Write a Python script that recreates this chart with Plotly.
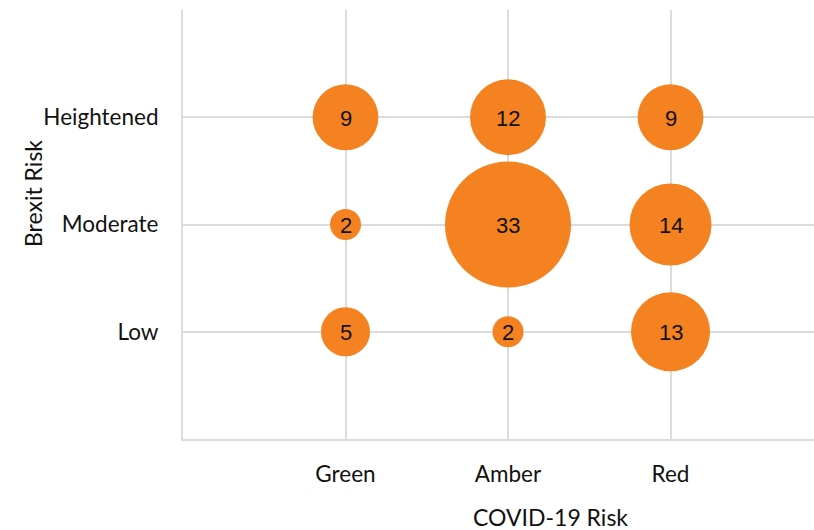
import plotly.graph_objects as go

# Risk matrix: COVID-19 risk (x) vs Brexit risk (y), bubble = count
covid_levels = ["Green", "Amber", "Red"]
brexit_levels = ["Low", "Moderate", "Heightened"]

covid_risk = ["Green", "Amber", "Red", "Green", "Amber", "Red", "Green", "Amber", "Red"]
brexit_risk = ["Heightened", "Heightened", "Heightened",
               "Moderate", "Moderate", "Moderate",
               "Low", "Low", "Low"]
counts = [9, 12, 9, 2, 33, 14, 5, 2, 13]

x_pos = [covid_levels.index(c) for c in covid_risk]
y_pos = [brexit_levels.index(b) for b in brexit_risk]

max_diameter = 126
sizeref = 2 * max(counts) / (max_diameter ** 2)

grid = "#dcdcdc"
label_font = "Lato, 'Open Sans', sans-serif"

fig = go.Figure(
    go.Scatter(
        x=x_pos,
        y=y_pos,
        mode="markers",
        marker=dict(
            size=counts,
            sizemode="area",
            sizeref=sizeref,
            color="#F58220",
            opacity=1,
            line=dict(width=0),
        ),
        hoverinfo="skip",
        showlegend=False,
        cliponaxis=False,
    )
)

# count labels centred on each bubble
for xv, yv, c in zip(x_pos, y_pos, counts):
    fig.add_annotation(
        x=xv, y=yv, text=str(c), showarrow=False,
        xanchor="center", yanchor="middle", yshift=-1,
        font=dict(family="Liberation Sans, Arial, sans-serif", size=22, color="#111111"),
    )

fig.update_xaxes(
    range=[-1, 2.883],
    tickvals=list(range(len(covid_levels))),
    ticktext=covid_levels,
    showgrid=True,
    gridcolor=grid,
    gridwidth=2,
    zeroline=False,
    showline=True,
    linecolor=grid,
    linewidth=2,
    ticks="",
    ticklabelstandoff=14,
    tickfont=dict(family=label_font, size=22.5, color="#111111"),
)
fig.update_yaxes(
    range=[-1, 3],
    tickvals=list(range(-1, 4)),
    ticktext=["", "Low", "Moderate", "Heightened", ""],
    showgrid=True,
    gridcolor=grid,
    gridwidth=2,
    zeroline=False,
    showline=True,
    linecolor=grid,
    linewidth=2,
    ticks="",
    ticklabelstandoff=18,
    tickfont=dict(family=label_font, size=22.5, color="#111111"),
)

fig.add_annotation(
    text="COVID-19 Risk", xref="paper", yref="paper",
    x=(550 - 183) / (814 - 183), y=-(517 - 439) / (439 - 10),
    showarrow=False, xanchor="center", yanchor="middle",
    font=dict(family=label_font, size=23, color="#111111"),
)
fig.add_annotation(
    text="Brexit Risk", xref="paper", yref="paper",
    x=-(183 - 33) / (814 - 183), y=(439 - 194) / (439 - 10),
    textangle=-90,
    showarrow=False, xanchor="center", yanchor="middle",
    font=dict(family=label_font, size=23, color="#111111"),
)

fig.update_layout(
    width=814,
    height=530,
    margin=dict(l=183, r=0, t=10, b=91),
    paper_bgcolor="white",
    plot_bgcolor="white",
)

fig.write_html("out.html")
